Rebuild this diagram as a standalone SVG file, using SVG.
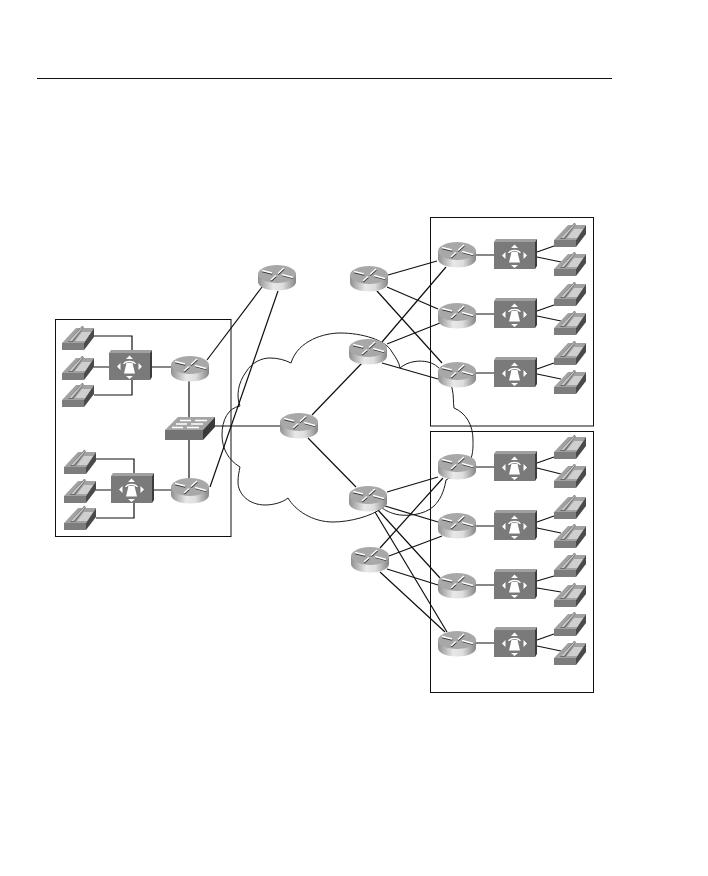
<svg xmlns="http://www.w3.org/2000/svg" width="708" height="876" viewBox="0 0 708 876">
<style>
.l{fill:none;stroke:#111;stroke-width:1.2}
.b{fill:none;stroke:#111;stroke-width:1}
.c{fill:none;stroke:#1a1a1a;stroke-width:1}
</style>
<defs>
<linearGradient id="rb" x1="0" x2="1" y1="0" y2="0"><stop offset="0" stop-color="#909090"/><stop offset=".4" stop-color="#e8e8e8"/><stop offset=".65" stop-color="#dedede"/><stop offset="1" stop-color="#858585"/></linearGradient>
<g id="router">
<path d="M0 9V17C0 22 9 25.500 19 25.500S38 22 38 17V9Z" fill="url(#rb)"/>
<ellipse cx="19" cy="9" rx="19" ry="9" fill="#a8a8a8"/>
<path d="M4 5.500L14 8M24 9.500L35 12.500M13 15L18 10.500M20 8.500L26 3" stroke="#333" stroke-width="1.500" fill="none" transform="translate(.2 .9)"/>
<path d="M4 5.500L14 8M24 9.500L35 12.500M13 15L18 10.500M20 8.500L26 3" stroke="#fff" stroke-width="1.400" fill="none"/>
</g>
<g id="phone">
<path d="M0 17L14 2H32L22 17Z" fill="#a2a2a2"/>
<path d="M0 17H22V24H0Z" fill="#7d7d7d"/>
<path d="M22 17L32 2V11L22 24Z" fill="#4a4a4a"/>
<path d="M13 15L20 6H29L23 15Z" fill="#cfcfcf"/>
<path d="M6 16L20 0L22 1L11 16Z" fill="#6a6a6a"/>
<path d="M7 15L20 1L21 1.500L10 15Z" fill="#c8c8c8"/>
</g>
<g id="gateway">
<path d="M0 3L2 0H43L41 3Z" fill="#a0a0a0"/>
<path d="M0 3H41V30H0Z" fill="#7a7a7a"/>
<path d="M41 3L43 0V27L41 30Z" fill="#3c3c3c"/>
<path d="M20.500 5.500L24 9H17ZM20.500 29L17 26H24ZM8 16.500L11.500 13V20ZM33 16.500L29.500 13V20Z" fill="#fff"/>
<path d="M14 14C15 9.500 26 9.500 27 14L25.500 14C24 11.500 17 11.500 15.500 14Z" fill="#fff"/>
<path d="M17.500 13H23.500L26 23.500H15Z" fill="#fff"/>
</g>
<g id="switch">
<path d="M0 13L13 0H50L38 13Z" fill="#a4a4a4"/>
<path d="M0 13H38V23H0Z" fill="#747474"/>
<path d="M38 13L50 0V10L38 23Z" fill="#3a3a3a"/>
<path d="M15 3.500H26M30 3.500H42M11 7H22M26 7H38M7 10.500H18M22 10.500H34" stroke="#fff" stroke-width="1.600"/>
</g>
</defs>
<rect width="708" height="876" fill="#fff"/>
<path d="M37 78.500H612" class="b"/>
<g id="frames">
<rect x="55.500" y="319.500" width="175.500" height="217" class="b"/>
<rect x="430.500" y="217.500" width="163" height="208.500" class="b"/>
<rect x="430.500" y="431.500" width="163" height="261" class="b"/>
</g>
<path id="cloud" class="c" d="M291 363C298 340 325 333 340 333C362 333 386 340 392 352C396 358 399 362 400 368C408 361 420 360 428 362C438 364 448 376 452 388C454 396 453 402 454 408C466 413 473 425 473 440C473 447 473 450 472 455C470 470 450 477 446 480C444 492 440 500 434 506C425 515 405 517 395 514C388 512 385 510 382 508C372 516 350 522 333 522C312 522 295 510 288 498C282 503 272 505 265 505C250 505 238 495 238 482C238 476 239 472 240 467C228 460 222 448 222 435C222 420 228 408 240 406C236 396 238 383 246 372C252 362 262 358 270 358C278 358 285 360 291 363Z"/>
<g id="connectors" class="l">
<path d="M94 336H132V350M94 367H109M94 395H132V380M152 367H171"/>
<path d="M96 459H134V473M96 490H111M96 518H134V503M154 490H171"/>
<path d="M189 381V417M189 440V478M215 426H280"/>
<path d="M207 360L262 287M210 487L278 291"/>
<path d="M312 415L362 363M308 438L356 487"/>
<path d="M382 342L446 267M387 344L440 323M382 363L438 379"/>
<path d="M388 275L437 261M387 287L438 309M377 291L442 363"/>
<path d="M387 492L438 477M385 506L438 522M378 510L440 578M375 512L447 632"/>
<path d="M380 548L443 478M389 556L442 536M387 569L438 585M380 572L445 632"/>
<path d="M476 255H494M476 314H494M476 373H494M476 467H494M476 526H494M476 585H494M476 643H494"/>
<path d="M537 252L554 246M537 257L561 262M537 311L554 305M537 316L561 321M537 369L554 363M537 374L561 379"/>
<path d="M537 463L554 457M537 468L561 474M537 522L554 516M537 528L561 533M537 581L554 576M537 588L561 592M537 640L554 634M537 646L561 651"/>
</g>
<g id="phone-l1"><use href="#phone" x="62" y="326"/></g>
<g id="phone-l2"><use href="#phone" x="62" y="356"/></g>
<g id="phone-l3"><use href="#phone" x="62" y="383"/></g>
<g id="phone-l4"><use href="#phone" x="64" y="450"/></g>
<g id="phone-l5"><use href="#phone" x="64" y="479"/></g>
<g id="phone-l6"><use href="#phone" x="64" y="506"/></g>
<g id="gw-l1"><use href="#gateway" x="109" y="350"/></g>
<g id="gw-l2"><use href="#gateway" x="111" y="473"/></g>
<g id="router-l1"><use href="#router" x="171" y="356"/></g>
<g id="router-l2"><use href="#router" x="171" y="478"/></g>
<g id="switch-l"><use href="#switch" x="165" y="417"/></g>
<g id="router-top"><use href="#router" x="258" y="265"/></g>
<g id="router-core"><use href="#router" x="280" y="413"/></g>
<g id="router-a"><use href="#router" x="350" y="266"/></g>
<g id="router-b"><use href="#router" x="349" y="339"/></g>
<g id="router-c"><use href="#router" x="349" y="486"/></g>
<g id="router-d"><use href="#router" x="351" y="547"/></g>
<g id="router-r1"><use href="#router" x="438" y="242"/></g>
<g id="router-r2"><use href="#router" x="438" y="303"/></g>
<g id="router-r3"><use href="#router" x="438" y="362"/></g>
<g id="router-r4"><use href="#router" x="438" y="454"/></g>
<g id="router-r5"><use href="#router" x="438" y="513"/></g>
<g id="router-r6"><use href="#router" x="438" y="573"/></g>
<g id="router-r7"><use href="#router" x="438" y="631"/></g>
<g id="gw-r1"><use href="#gateway" x="494" y="239"/></g>
<g id="gw-r2"><use href="#gateway" x="494" y="298"/></g>
<g id="gw-r3"><use href="#gateway" x="494" y="357"/></g>
<g id="gw-r4"><use href="#gateway" x="494" y="451"/></g>
<g id="gw-r5"><use href="#gateway" x="494" y="510"/></g>
<g id="gw-r6"><use href="#gateway" x="494" y="569"/></g>
<g id="gw-r7"><use href="#gateway" x="494" y="627"/></g>
<g id="phone-r1"><use href="#phone" x="554" y="223"/></g>
<g id="phone-r2"><use href="#phone" x="554" y="252"/></g>
<g id="phone-r3"><use href="#phone" x="554" y="282"/></g>
<g id="phone-r4"><use href="#phone" x="554" y="311"/></g>
<g id="phone-r5"><use href="#phone" x="554" y="341"/></g>
<g id="phone-r6"><use href="#phone" x="554" y="370"/></g>
<g id="phone-r7"><use href="#phone" x="554" y="435"/></g>
<g id="phone-r8"><use href="#phone" x="554" y="464"/></g>
<g id="phone-r9"><use href="#phone" x="554" y="495"/></g>
<g id="phone-r10"><use href="#phone" x="554" y="524"/></g>
<g id="phone-r11"><use href="#phone" x="554" y="553"/></g>
<g id="phone-r12"><use href="#phone" x="554" y="583"/></g>
<g id="phone-r13"><use href="#phone" x="554" y="612"/></g>
<g id="phone-r14"><use href="#phone" x="554" y="641"/></g>
</svg>
